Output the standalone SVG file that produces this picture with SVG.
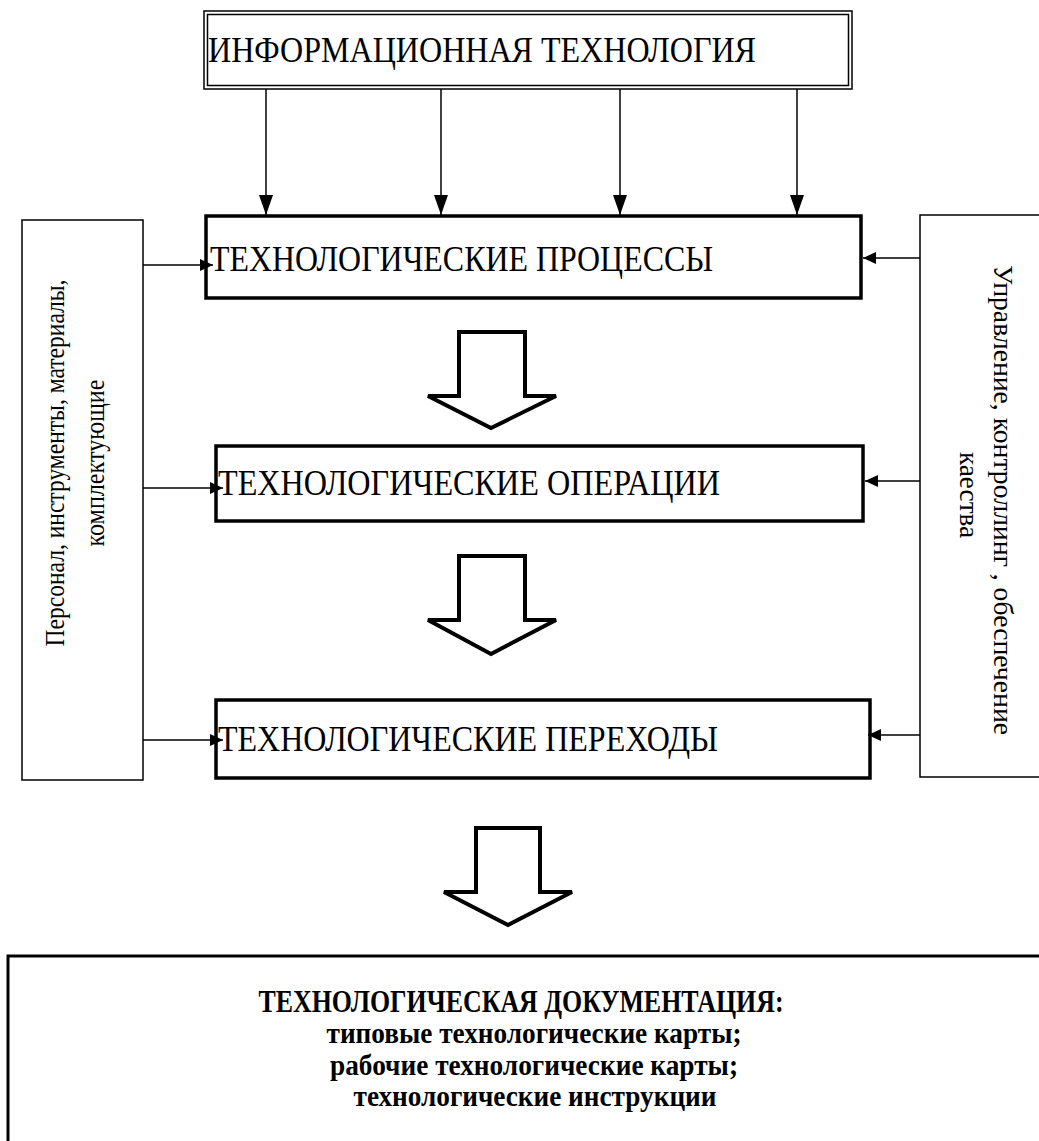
<svg xmlns="http://www.w3.org/2000/svg" width="1039" height="1141" viewBox="0 0 1039 1141">
  <style>
    .bg { fill: #ffffff; }
    .box { fill: #ffffff; stroke: #000000; stroke-width: 3.5; }
    .side { fill: #ffffff; stroke: #000000; stroke-width: 1.5; }
    .title { font-family: "Liberation Serif", "Times New Roman", serif; font-size: 36px; fill: #000000; }
    .vtext { font-family: "Liberation Serif", "Times New Roman", serif; font-size: 27px; fill: #000000; }
    .doc { font-family: "Liberation Serif", "Times New Roman", serif; font-weight: bold; fill: #000000; }
    .wire { stroke: #000000; stroke-width: 1.5; fill: none; }
    .bigarrow { fill: #ffffff; stroke: #000000; stroke-width: 4; stroke-linejoin: miter; }
  </style>
  <defs>
    <!-- long head for the feed lines from the top box -->
    <marker id="head" viewBox="0 0 20 14" refX="20" refY="7" markerWidth="20" markerHeight="14" markerUnits="userSpaceOnUse" orient="auto">
      <path d="M0,0 L20,7 L0,14 Z" fill="#000000"/>
    </marker>
    <!-- short head for the side inputs -->
    <marker id="head-s" viewBox="0 0 13 12" refX="13" refY="6" markerWidth="13" markerHeight="12" markerUnits="userSpaceOnUse" orient="auto">
      <path d="M0,0 L13,6 L0,12 Z" fill="#000000"/>
    </marker>
  </defs>

  <rect class="bg" x="0" y="0" width="1039" height="1141"/>

  <!-- top node: double-framed box -->
  <g id="info-tech">
    <rect x="204" y="11" width="648" height="78" fill="#ffffff" stroke="#000000" stroke-width="1.5"/>
    <rect x="207.5" y="14.5" width="641" height="71" fill="none" stroke="#000000" stroke-width="1.5"/>
    <text class="title" x="208" y="62" font-size="35" textLength="548" lengthAdjust="spacingAndGlyphs">ИНФОРМАЦИОННАЯ ТЕХНОЛОГИЯ</text>
  </g>

  <!-- left resource column -->
  <g id="resources">
    <rect class="side" x="22" y="220" width="121" height="560"/>
    <text class="vtext" transform="translate(64,463) rotate(-90)" text-anchor="middle" textLength="367" lengthAdjust="spacingAndGlyphs">Персонал, инструменты, материалы,</text>
    <text class="vtext" transform="translate(104,463) rotate(-90)" text-anchor="middle" textLength="167" lengthAdjust="spacingAndGlyphs">комплектующие</text>
  </g>

  <!-- right control column -->
  <g id="control">
    <rect class="side" x="920" y="215" width="125" height="562"/>
    <text class="vtext" transform="translate(994,500) rotate(90)" text-anchor="middle" textLength="470" lengthAdjust="spacingAndGlyphs">Управление, контроллинг , обеспечение</text>
    <text class="vtext" transform="translate(960,495) rotate(90)" text-anchor="middle" textLength="86" lengthAdjust="spacingAndGlyphs">каества</text>
  </g>

  <!-- process levels -->
  <g id="processes">
    <rect class="box" x="206" y="216" width="655" height="82"/>
    <text class="title" x="210" y="271" textLength="503" lengthAdjust="spacingAndGlyphs">ТЕХНОЛОГИЧЕСКИЕ ПРОЦЕССЫ</text>
  </g>
  <g id="operations">
    <rect class="box" x="216" y="446" width="647" height="75"/>
    <text class="title" x="218" y="495" textLength="502" lengthAdjust="spacingAndGlyphs">ТЕХНОЛОГИЧЕСКИЕ ОПЕРАЦИИ</text>
  </g>
  <g id="transitions">
    <rect class="box" x="216" y="700" width="654" height="78"/>
    <text class="title" x="218" y="751" textLength="500" lengthAdjust="spacingAndGlyphs">ТЕХНОЛОГИЧЕСКИЕ ПЕРЕХОДЫ</text>
  </g>

  <!-- documentation output -->
  <g id="documentation">
    <rect x="8" y="956" width="1045" height="200" fill="#ffffff" stroke="#000000" stroke-width="3"/>
    <text class="doc" x="521" y="1012" font-size="31" text-anchor="middle" textLength="525" lengthAdjust="spacingAndGlyphs">ТЕХНОЛОГИЧЕСКАЯ ДОКУМЕНТАЦИЯ:</text>
    <text class="doc" x="534" y="1043" font-size="30" text-anchor="middle" textLength="415" lengthAdjust="spacingAndGlyphs">типовые технологические карты;</text>
    <text class="doc" x="534" y="1075" font-size="30" text-anchor="middle" textLength="408" lengthAdjust="spacingAndGlyphs">рабочие технологические карты;</text>
    <text class="doc" x="535" y="1106" font-size="30" text-anchor="middle" textLength="363" lengthAdjust="spacingAndGlyphs">технологические инструкции</text>
  </g>

  <!-- connectors -->
  <g id="connectors">
    <line class="wire" x1="266" y1="89" x2="266" y2="215" marker-end="url(#head)"/>
    <line class="wire" x1="441" y1="89" x2="441" y2="215" marker-end="url(#head)"/>
    <line class="wire" x1="620" y1="89" x2="620" y2="215" marker-end="url(#head)"/>
    <line class="wire" x1="797" y1="89" x2="797" y2="215" marker-end="url(#head)"/>

    <line class="wire" x1="143" y1="265" x2="213" y2="265" marker-end="url(#head-s)"/>
    <line class="wire" x1="143" y1="488" x2="223" y2="488" marker-end="url(#head-s)"/>
    <line class="wire" x1="143" y1="740" x2="223" y2="740" marker-end="url(#head-s)"/>

    <line class="wire" x1="920" y1="258" x2="863" y2="258" marker-end="url(#head-s)"/>
    <line class="wire" x1="920" y1="481" x2="865" y2="481" marker-end="url(#head-s)"/>
    <line class="wire" x1="920" y1="735" x2="868" y2="735" marker-end="url(#head-s)"/>

    <path class="bigarrow" d="M459,332 H525 V396 H556 L491,428 L428,396 H459 Z"/>
    <path class="bigarrow" d="M459,556 H525 V620 H556 L491,654 L428,620 H459 Z"/>
    <path class="bigarrow" d="M476,828 H540 V892 H572 L508,925 L444,892 H476 Z"/>
  </g>
</svg>
